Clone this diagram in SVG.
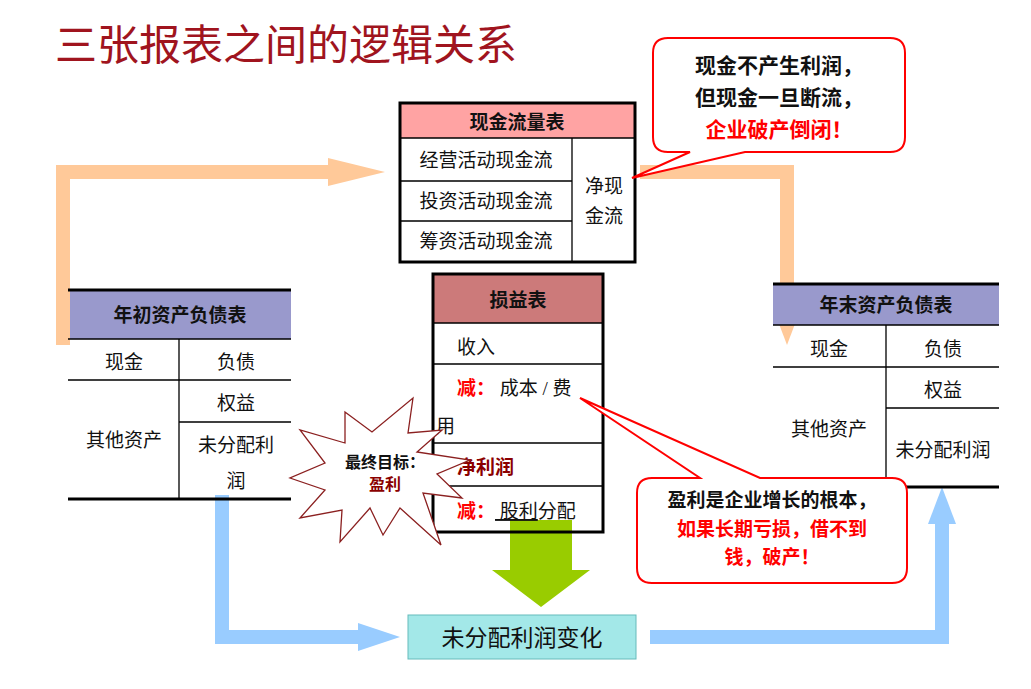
<svg xmlns="http://www.w3.org/2000/svg" width="1031" height="689" viewBox="0 0 1031 689">
<style>
text{font-family:"Liberation Serif","Noto Sans CJK SC",serif;font-size:19px;fill:#111}
.b{font-weight:bold}
.c{text-anchor:middle}
.r{fill:#ff0000}
.dr{fill:#8b0000}
.bb{font-size:21px}
.ln{stroke:#000;stroke-width:1.3;fill:none}
.tk{stroke:#000;stroke-width:3;fill:none}
</style>
<rect width="1031" height="689" fill="#fff"/>
<text x="55" y="60" style="font-size:42px;fill:#A0141E">三张报表之间的逻辑关系</text>
<g id="connectors">
<path d="M63,345 V172 H330" stroke="#FFC999" stroke-width="14" fill="none"/>
<polygon points="328,158 385,172 328,186" fill="#FFC999"/>
<path d="M640,172 H787 V310" stroke="#FFC999" stroke-width="14" fill="none"/>
<polygon points="773,308 787,345 801,308" fill="#FFC999"/>
<path d="M222,495 V637 H360" stroke="#99CCFF" stroke-width="14" fill="none"/>
<polygon points="358,623 400,637 358,651" fill="#99CCFF"/>
<path d="M650,637 H942 V522" stroke="#99CCFF" stroke-width="14" fill="none"/>
<polygon points="928,524 942,487 956,524" fill="#99CCFF"/>
<polygon points="510,520 572,520 572,570 590,570 541,607 492,570 510,570" fill="#99CC00"/>
</g>
<g id="cashflow">
<rect x="400" y="103" width="235" height="35" fill="#FFA3A3"/>
<rect x="400" y="103" width="235" height="159" class="tk"/>
<path d="M400,138 H635 M572,138 V262 M400,181 H572 M400,221 H572" class="ln"/>
<text x="517" y="129" class="c b">现金流量表</text>
<text x="486" y="167" class="c">经营活动现金流</text>
<text x="486" y="208" class="c">投资活动现金流</text>
<text x="486" y="248" class="c">筹资活动现金流</text>
<text x="604" y="193" class="c">净现</text>
<text x="604" y="223" class="c">金流</text>
</g>
<g id="income">
<rect x="433" y="274" width="170" height="49" fill="#CC7A7A"/>
<rect x="433" y="274" width="170" height="258" class="tk"/>
<path d="M433,323 H603 M433,364 H603 M433,443 H603 M433,486 H603" class="ln"/>
<text x="518" y="307" class="c b">损益表</text>
<text x="457" y="354">收入</text>
<text x="457" y="395"><tspan class="r b">减：</tspan> 成本 / 费</text>
<text x="436" y="433">用</text>
<text x="457" y="474" class="dr b">净利润</text>
<text x="457" y="518"><tspan class="r b">减：</tspan><tspan text-decoration="underline"> 股利</tspan>分配</text>
</g>
<g id="balance-begin">
<rect x="70" y="290" width="221" height="49" fill="#9999CC"/>
<path d="M68,290 H291 M68,499 H291" class="tk"/>
<path d="M68,339 H291 M68,380 H291 M179,339 V499 M179,422 H291" class="ln"/>
<text x="180" y="322" class="c b">年初资产负债表</text>
<text x="124" y="369" class="c">现金</text>
<text x="236" y="369" class="c">负债</text>
<text x="236" y="410" class="c">权益</text>
<text x="124" y="447" class="c">其他资产</text>
<text x="236" y="452" class="c">未分配利</text>
<text x="236" y="488" class="c">润</text>
</g>
<g id="balance-end">
<rect x="773" y="284" width="226" height="41" fill="#9999CC"/>
<path d="M773,284 H999 M773,487 H999" class="tk"/>
<path d="M773,325 H999 M773,367 H999 M886,325 V487 M886,408 H999" class="ln"/>
<text x="886" y="312" class="c b">年末资产负债表</text>
<text x="829" y="356" class="c">现金</text>
<text x="943" y="356" class="c">负债</text>
<text x="943" y="397" class="c">权益</text>
<text x="829" y="436" class="c">其他资产</text>
<text x="943" y="457" class="c">未分配利润</text>
</g>
<g id="star">
<polygon points="413,398 408,433 442,430 417,452 470,460 437,474 462,498 423,493 441,545 400,508 383,535 370,508 340,542 342,510 300,518 325,490 290,478 325,463 300,430 345,443 345,412 372,432" fill="#fff" stroke="#8B2020" stroke-width="1.3"/>
<text x="385" y="468" class="c b" style="font-size:16px">最终目标：</text>
<text x="385" y="490" class="c b dr" style="font-size:16px">盈利</text>
</g>
<g id="bubble1">
<path d="M668,38 H890 Q905,38 905,53 V137 Q905,152 890,152 H745 L632,178 L690,152 H668 Q653,152 653,137 V53 Q653,38 668,38 Z" fill="#fff" stroke="#ff0000" stroke-width="2"/>
<text x="779" y="73" class="c b bb">现金不产生利润，</text>
<text x="779" y="105" class="c b bb">但现金一旦断流，</text>
<text x="779" y="137" class="c b r bb">企业破产倒闭！</text>
</g>
<g id="bubble2">
<path d="M652,478 H700 L580,398 L760,478 H892 Q907,478 907,493 V568 Q907,583 892,583 H652 Q637,583 637,568 V493 Q637,478 652,478 Z" fill="#fff" stroke="#ff0000" stroke-width="2"/>
<text x="772" y="507" class="c b">盈利是企业增长的根本，</text>
<text x="772" y="536" class="c b r">如果长期亏损，借不到</text>
<text x="772" y="564" class="c b r">钱，破产！</text>
</g>
<g id="retained-change">
<rect x="408" y="615" width="228" height="44" fill="#A3E8E8" stroke="#66BBBB" stroke-width="1"/>
<text x="522" y="646" class="c" style="font-size:23px">未分配利润变化</text>
</g>
</svg>
